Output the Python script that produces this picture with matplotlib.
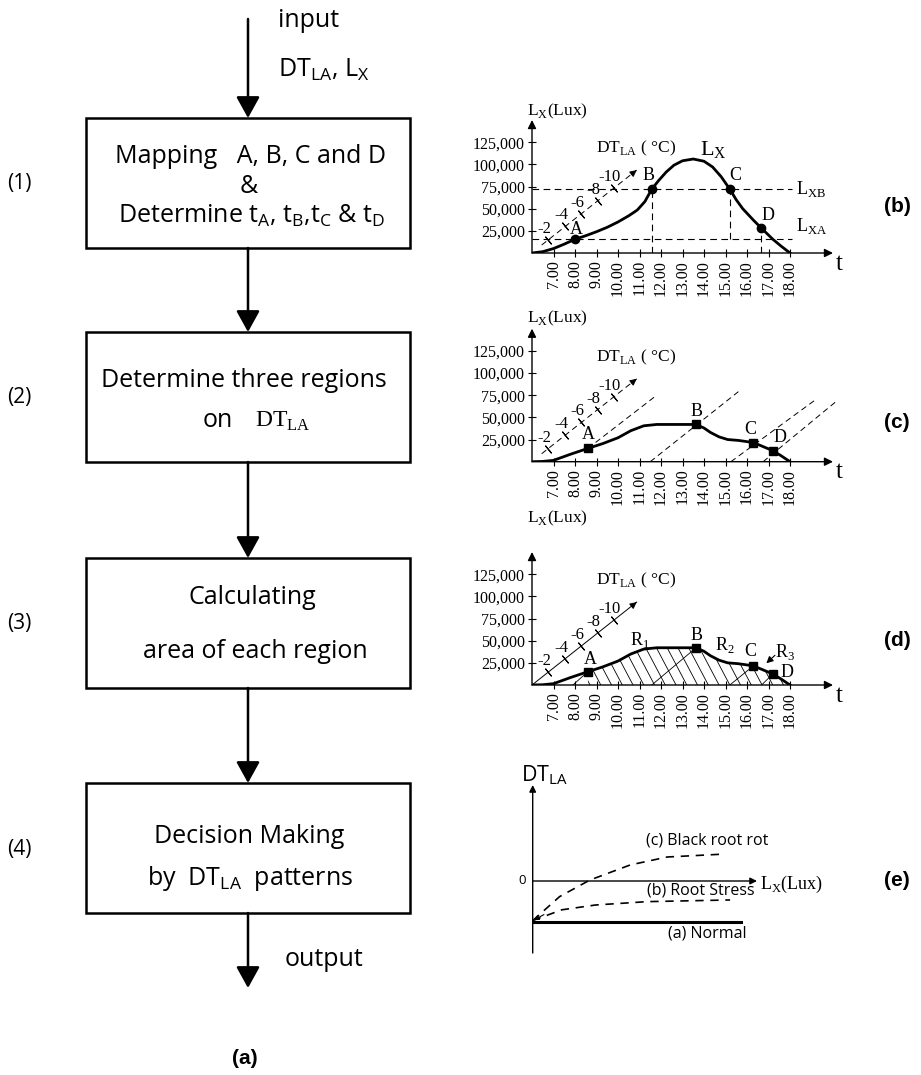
import numpy as np
import matplotlib.pyplot as plt
from matplotlib.patches import Rectangle, Polygon

W, H = 921, 1075

# ---- values ----
hours = [7, 8, 9, 10, 11, 12, 13, 14, 15, 16, 17, 18]
hour_labels = ['7.00', '8.00', '9.00', '10.00', '11.00', '12.00',
               '13.00', '14.00', '15.00', '16.00', '17.00', '18.00']
lux_ticks = [25000, 50000, 75000, 100000, 125000]
lux_labels = ['25,000', '50,000', '75,000', '100,000', '125,000']
dt_labels = ['-2', '-4', '-6', '-8', '-10']
dt_tick_t = [6.75, 7.55, 8.3, 9.05, 9.8]

# (b) light intensity over the day
t_b = [6.0, 6.5, 7.0, 7.5, 8.0, 8.5, 9.0, 9.5, 10.0, 10.5, 10.9, 11.25, 11.57, 11.9, 12.25,
       12.6, 13.0, 13.5, 14.0, 14.4, 14.8, 15.2, 15.5, 15.8, 16.3, 16.65, 17.2, 17.6, 18.0]
lx_b = [0, 1500, 5000, 10000, 15500, 19500, 24000, 29000, 35000, 42000, 48500, 58000, 72000,
        82000, 91500, 99000, 104000, 106000, 103500, 97000, 86000, 72000, 60000, 50000,
        37000, 28500, 15500, 7500, 0]
pts_b_t = [8.0, 11.57, 15.2, 16.65]
pts_b_lx = [15500, 72000, 72000, 28500]
lxa, lxb = 15500, 72000

# (c), (d) light intensity over the day
t_c = [6.0, 6.5, 7.0, 7.8, 8.6, 9.3, 10.0, 10.6, 11.2, 11.8, 12.5, 13.0,
       13.63, 14.0, 14.3, 14.7, 15.1, 15.6, 16.3, 16.8, 17.2, 17.6, 18.0]
lx_c = [0, 300, 1500, 8500, 15000, 20500, 27000, 35000, 40500, 42000, 42000, 42000,
        42000, 38000, 33000, 28000, 25000, 24000, 21600, 16500, 12500, 6500, 0]
pts_c_t = [8.6, 13.63, 16.3, 17.2]
pts_c_lx = [15000, 42000, 21600, 12500]
point_names = ['A', 'B', 'C', 'D']

# iso-DT lines in (c)
iso_c_t0 = [8.6, 11.5, 15.25, 16.75]
iso_c_lx0 = [15000, 0, 0, 0]
iso_c_t1 = [11.8, 15.6, 19.25, 20.1]
iso_c_lx1 = [75000, 79000, 71000, 67000]
# lines from the time axis to A..D in (d)
iso_d_t0 = [7.9, 11.57, 15.2, 16.68]

# (e) DT_LA patterns
e_normal_x = [0, 9.3]
e_normal_y = [-1.7, -1.7]
e_stress_x = [0, 1.3, 2.8, 5.1, 8.8]
e_stress_y = [-1.65, -1.2, -1.0, -0.86, -0.79]
e_rot_x = [0, 1.2, 2.55, 4.35, 6.0, 8.5]
e_rot_y = [-1.65, -0.65, 0.04, 0.67, 1.0, 1.12]

# flowchart
box_top = [118, 332, 558, 783]
step_labels = ['(1)', '(2)', '(3)', '(4)']

SANS = 'Open Sans'
SERIF = 'Liberation Serif'

fig = plt.figure(figsize=(W / 100, H / 100), dpi=100)

ax0 = fig.add_axes([0, 0, 1, 1])
ax0.set_xlim(0, W)
ax0.set_ylim(H, 0)
ax0.axis('off')

arrow_kw = dict(arrowstyle='-|>,head_length=0.65,head_width=0.36', lw=1.8,
                color='k', mutation_scale=20, shrinkA=0, shrinkB=0)

# boxes and arrows
for i, top in enumerate(box_top):
    ax0.add_patch(Rectangle((86, top), 324, 130, fill=False, lw=1.8, ec='k'))
    ax0.text(7, top + 66, step_labels[i], fontsize=15, family=SANS, va='center')
    start = 19 if i == 0 else box_top[i - 1] + 130
    ax0.annotate('', xy=(248, top), xytext=(248, start), arrowprops=arrow_kw)
ax0.annotate('', xy=(248, 988), xytext=(248, box_top[-1] + 130), arrowprops=arrow_kw)

fs = 18
ax0.text(278, 27, 'input', fontsize=fs, family=SANS, va='baseline')
ax0.text(278, 77, r'DT$_\mathregular{LA}$, L$_\mathregular{X}$', fontsize=fs, family=SANS, va='baseline')
ax0.text(250, 163, 'Mapping   A, B, C and D', fontsize=fs, family=SANS, ha='center', va='baseline')
ax0.text(249, 193, '&', fontsize=fs, family=SANS, ha='center', va='baseline')
ax0.text(252, 223, r'Determine t$_\mathregular{A}$, t$_\mathregular{B}$,t$_\mathregular{C}$ & t$_\mathregular{D}$',
         fontsize=fs, family=SANS, ha='center', va='baseline')
ax0.text(244, 387, 'Determine three regions', fontsize=fs, family=SANS, ha='center', va='baseline')
ax0.text(203, 427, 'on', fontsize=fs, family=SANS, va='baseline')
ax0.text(255, 427, r'DT$_\mathregular{LA}$', fontsize=17, family=SERIF, va='baseline')
ax0.text(252, 604, 'Calculating', fontsize=fs, family=SANS, ha='center', va='baseline')
ax0.text(255, 658, 'area of each region', fontsize=fs, family=SANS, ha='center', va='baseline')
ax0.text(249, 843, 'Decision Making', fontsize=fs, family=SANS, ha='center', va='baseline')
ax0.text(250, 885, r'by  DT$_\mathregular{LA}$  patterns', fontsize=fs, family=SANS, ha='center', va='baseline')
ax0.text(285, 966, 'output', fontsize=fs, family=SANS, va='baseline')
ax0.text(245, 1058, '(a)', fontsize=15, family='Liberation Sans', weight='bold', ha='center', va='center')

for lab, y in zip(['(b)', '(c)', '(d)', '(e)'], [207, 423, 640, 880]):
    ax0.text(897, y, lab, fontsize=15, family='Liberation Sans', weight='bold', ha='center', va='center')

# axis titles of the light panels
for y in [115, 322, 522]:
    ax0.text(527, y, r'L$_\mathregular{X}$(Lux)', fontsize=12.5, family=SERIF, va='baseline')


def panel(x0, y0, x1, y1):
    a = fig.add_axes([x0 / W, 1 - y0 / H, (x1 - x0) / W, (y0 - y1) / H])
    a.patch.set_alpha(0)
    return a


def light_axes(a):
    a.set_xlim(6, 20)
    a.set_ylim(0, 150000)
    for s in a.spines.values():
        s.set_visible(False)
    a.set_xticks(hours)
    a.set_xticklabels(hour_labels, rotation=90, family=SERIF, fontsize=11.5)
    a.set_yticks(lux_ticks)
    a.set_yticklabels(lux_labels, family=SERIF, fontsize=11.5)
    a.tick_params(direction='inout', length=6, width=0.8, pad=2)
    ak = dict(arrowstyle='-|>,head_length=0.5,head_width=0.25', lw=1, color='k',
              mutation_scale=10, shrinkA=0, shrinkB=0)
    a.annotate('', xy=(1, 0), xytext=(0, 0), xycoords='axes fraction', arrowprops=ak)
    a.annotate('', xy=(0, 1), xytext=(0, 0), xycoords='axes fraction', arrowprops=ak)
    a.text(20.15, -12000, 't', fontsize=18, family=SERIF, va='center')


def dt_axis(a, t0, lx0, dashed):
    t1, lx1 = 10.87, 93500
    ls = (0, (6, 4)) if dashed else '-'
    a.plot([t0, t1], [lx0, lx1], color='k', lw=0.7, ls=ls)
    a.annotate('', xy=(t1, lx1), xytext=(t1 - 0.25, lx1 - 4800),
               arrowprops=dict(arrowstyle='-|>,head_length=0.5,head_width=0.25', lw=0.7,
                               color='k', mutation_scale=8, shrinkA=0, shrinkB=0))
    slope = (lx1 - lx0) / (t1 - t0)
    tt = np.array(dt_tick_t)
    ll = lx0 + slope * (tt - t0)
    a.plot(tt, ll, ls='none', marker=(2, 2, 39), ms=7, mec='k', mew=0.8)
    for t, l, s in zip(tt, ll, dt_labels):
        a.annotate(s, (t, l), xytext=(-3, 8), textcoords='offset points',
                   ha='center', va='center', fontsize=12, family=SERIF)
    a.text(10.85, 118000, r'DT$_\mathregular{LA}$ ( °C)', fontsize=12.5, family=SERIF,
           ha='center', va='center')


def name_points(a, ts, ls, offs):
    for t, l, n, o in zip(ts, ls, point_names, offs):
        a.annotate(n, (t, l), xytext=o, textcoords='offset points', ha='center',
                   va='bottom', fontsize=13, family=SERIF)


# ---- (b) ----
ab = panel(532, 253, 833, 120)
light_axes(ab)
dash = (0, (6, 4))
ab.plot([6, 18.1], [lxb, lxb], color='k', lw=0.8, ls=dash)
ab.plot([6, 18.1], [lxa, lxa], color='k', lw=0.8, ls=dash)
ab.plot([pts_b_t[1]] * 2, [0, lxb], color='k', lw=0.8, ls=dash)
ab.plot([pts_b_t[2]] * 2, [lxa, lxb], color='k', lw=0.8, ls=dash)
ab.plot([pts_b_t[3]] * 2, [0, pts_b_lx[3]], color='k', lw=0.8, ls=dash)
ab.plot(t_b, lx_b, color='k', lw=2)
ab.plot(pts_b_t, pts_b_lx, 'o', color='k', ms=6)
dt_axis(ab, 6.45, 9000, True)
name_points(ab, pts_b_t, pts_b_lx, [(1, 1), (-2, 4), (4, 4), (5, 3)])
ab.text(14.45, 116000, r'L$_\mathregular{X}$', fontsize=16, family=SERIF, ha='center', va='center')
ab.text(18.3, lxb, r'L$_\mathregular{XB}$', fontsize=13, family=SERIF, va='center', clip_on=False)
ab.text(18.3, lxa + 15000, r'L$_\mathregular{XA}$', fontsize=13, family=SERIF, va='center', clip_on=False)

# ---- (c) ----
ac = panel(532, 461.7, 833, 328.7)
light_axes(ac)
for t0, l0, t1, l1 in zip(iso_c_t0, iso_c_lx0, iso_c_t1, iso_c_lx1):
    ac.plot([t0, t1], [l0, l1], color='k', lw=0.7, ls=dash, clip_on=False)
ac.plot(t_c, lx_c, color='k', lw=2)
ac.plot(pts_c_t, pts_c_lx, 's', color='k', ms=6)
dt_axis(ac, 6.45, 9000, True)
name_points(ac, pts_c_t, pts_c_lx, [(0, 4), (0, 3), (-2, 3), (5, 3)])

# ---- (d) ----
ad = panel(532, 685, 833, 552)
light_axes(ad)
area_t = [t for t in t_c if pts_c_t[0] <= t <= 18.0]
area_l = [l for t, l in zip(t_c, lx_c) if pts_c_t[0] <= t <= 18.0]
region = Polygon(list(zip([pts_c_t[0]] + area_t + [18.0], [0] + area_l + [0])),
                 closed=True, fill=False, lw=0)
ad.add_patch(region)
for x0 in np.arange(8.2, 19.0, 0.5):
    ln, = ad.plot([x0, x0 - 2.0], [0, 92000], color='k', lw=0.6)
    ln.set_clip_path(region)
for t0, t1, l1 in zip(iso_d_t0, pts_c_t, pts_c_lx):
    ad.plot([t0, t1], [0, l1], color='k', lw=0.6)
ad.plot(t_c, lx_c, color='k', lw=2)
ad.plot(pts_c_t, pts_c_lx, 's', color='k', ms=6)
dt_axis(ad, 6.0, 0, False)
name_points(ad, pts_c_t, pts_c_lx, [(2, 3), (0, 3), (-2, 4), (10, -5)])
ad.text(11.0, 51000, r'R$_\mathregular{1}$', fontsize=13, family=SERIF, ha='center', va='center')
ad.text(14.95, 45000, r'R$_\mathregular{2}$', fontsize=13, family=SERIF, ha='center', va='center')
ad.text(17.75, 37000, r'R$_\mathregular{3}$', fontsize=13, family=SERIF, ha='center', va='center')
ad.annotate('', xy=(16.9, 24500), xytext=(17.3, 33500),
            arrowprops=dict(arrowstyle='-|>,head_length=0.5,head_width=0.25', lw=0.8,
                            color='k', mutation_scale=8, shrinkA=0, shrinkB=0))

# ---- (e) ----
ae = panel(532.7, 953, 757, 785)
ae.set_xlim(0, 10)
ae.set_ylim(-3, 4)
ae.axis('off')
ak = dict(arrowstyle='-|>,head_length=0.5,head_width=0.25', lw=1, color='k',
          mutation_scale=8, shrinkA=0, shrinkB=0)
ae.annotate('', xy=(10, 0), xytext=(0, 0), arrowprops=ak)
ae.annotate('', xy=(0, 4), xytext=(0, -3), arrowprops=ak)
ae.plot(e_normal_x, e_normal_y, color='k', lw=2.2)
ae.plot(e_stress_x, e_stress_y, color='k', lw=1.2, ls=(0, (5, 4)))
ae.plot(e_rot_x, e_rot_y, color='k', lw=1.2, ls=(0, (5, 4)))
ae.annotate('', xy=(0.05, -1.63), xytext=(0.5, -1.4),
            arrowprops=dict(arrowstyle='-|>,head_length=0.5,head_width=0.25', lw=0.8,
                            color='k', mutation_scale=6, shrinkA=0, shrinkB=0))
ae.text(7.8, 1.7, '(c) Black root rot', fontsize=11.5, family=SANS, ha='center', va='center')
ae.text(7.5, -0.4, '(b) Root Stress', fontsize=11.5, family=SANS, ha='center', va='center')
ae.text(7.8, -2.2, '(a) Normal', fontsize=11.5, family=SANS, ha='center', va='center')
ae.text(-0.45, 0, '0', fontsize=9.5, family=SANS, ha='center', va='center')
ae.text(10.15, -0.15, r'L$_\mathregular{X}$(Lux)', fontsize=13, family=SERIF, va='center')
ax0.text(521, 781, r'DT$_\mathregular{LA}$', fontsize=15.5, family=SANS, va='baseline')

fig.savefig('out.png', dpi=100)
